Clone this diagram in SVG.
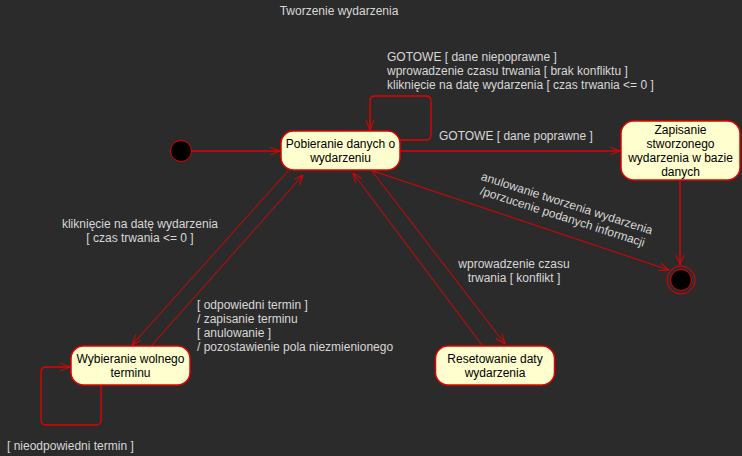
<svg xmlns="http://www.w3.org/2000/svg" width="742" height="456" viewBox="0 0 742 456">
<defs>
<marker id="arr" viewBox="0 0 10 8" markerWidth="10" markerHeight="8" refX="10" refY="4" orient="auto" markerUnits="userSpaceOnUse">
<path d="M0,0 L10,4 L0,8" fill="none" stroke="#e60000" stroke-width="1"/>
</marker>
</defs>
<style>
.node rect{fill:#fefece;stroke:#e60000;stroke-width:1.5}
.ntxt{font-family:"Liberation Sans",Arial,sans-serif;font-size:12px;fill:#000;text-anchor:middle}
.lbl{font-family:"Liberation Sans",Arial,sans-serif;font-size:12px;fill:#d8d8d8}
.edge{fill:none;stroke:#e60000;stroke-width:1;marker-end:url(#arr)}
.thick{stroke-width:1.3}
.mid{text-anchor:middle}
</style>
<rect x="0" y="0" width="742" height="456" fill="#2b2b2b"/>
<text class="lbl mid" x="339" y="15">Tworzenie wydarzenia</text>

<g id="edges">
<path class="edge thick" d="M192,151 H280"/>
<path class="edge thick" d="M400,140 H426 Q431,140 431,135 V101 Q431,96 426,96 H375 Q370,96 370,101 V130"/>
<path class="edge thick" d="M400,151 H620"/>
<path class="edge thick" d="M680,180 V265"/>
<path class="edge" d="M373,171 L669,270"/>
<path class="edge" d="M288,171 L132,345"/>
<path class="edge" d="M152,345 L303,175"/>
<path class="edge thick" d="M101,385 V420 Q101,425 96,425 H46 Q41,425 41,420 V372 Q41,367 46,367 H70"/>
<path class="edge" d="M372,171 L505,344"/>
<path class="edge" d="M482,345 L353,173"/>

<text class="lbl" x="387" y="61">GOTOWE [ dane niepoprawne ]</text>
<text class="lbl" x="387" y="75">wprowadzenie czasu trwania [ brak konfliktu ]</text>
<text class="lbl" x="387" y="89">kliknięcie na datę wydarzenia [ czas trwania &lt;= 0 ]</text>
<text class="lbl" x="439" y="140">GOTOWE [ dane poprawne ]</text>
<g transform="translate(481,180) rotate(17.8)">
<text class="lbl mid" x="89" y="0">anulowanie tworzenia wydarzenia</text>
<text class="lbl mid" x="89" y="14">/porzucenie podanych informacji</text>
</g>
<text class="lbl mid" x="140" y="228">kliknięcie na datę wydarzenia</text>
<text class="lbl mid" x="140" y="242">[ czas trwania &lt;= 0 ]</text>
<text class="lbl" x="197" y="309">[ odpowiedni termin ]</text>
<text class="lbl" x="197" y="323">/ zapisanie terminu</text>
<text class="lbl" x="197" y="337">[ anulowanie ]</text>
<text class="lbl" x="197" y="351">/ pozostawienie pola niezmienionego</text>
<text class="lbl" x="7" y="450">[ nieodpowiedni termin ]</text>
<text class="lbl mid" x="514" y="268">wprowadzenie czasu</text>
<text class="lbl mid" x="514" y="282">trwania [ konflikt ]</text>
</g>

<g id="start">
<circle cx="181" cy="151" r="10.5" fill="#000" stroke="#e60000" stroke-width="1"/>
</g>
<g id="pobieranie" class="node">
<rect x="281" y="131" width="119" height="39" rx="12.5"/>
<text class="ntxt" x="340.5" y="148">Pobieranie danych o</text>
<text class="ntxt" x="340.5" y="162">wydarzeniu</text>
</g>
<g id="zapisanie" class="node">
<rect x="621" y="121" width="119" height="59" rx="12.5"/>
<text class="ntxt" x="680.5" y="134">Zapisanie</text>
<text class="ntxt" x="680.5" y="148">stworzonego</text>
<text class="ntxt" x="680.5" y="162">wydarzenia w bazie</text>
<text class="ntxt" x="680.5" y="176">danych</text>
</g>
<g id="koniec">
<circle cx="681" cy="280" r="14" fill="none" stroke="#e60000" stroke-width="1"/>
<circle cx="681" cy="280" r="10.5" fill="#000" stroke="#e60000" stroke-width="1"/>
</g>
<g id="wybieranie" class="node">
<rect x="71" y="346" width="119" height="39" rx="12.5"/>
<text class="ntxt" x="130.5" y="363">Wybieranie wolnego</text>
<text class="ntxt" x="130.5" y="377">terminu</text>
</g>
<g id="resetowanie" class="node">
<rect x="435.5" y="346" width="119" height="39" rx="12.5"/>
<text class="ntxt" x="495" y="363">Resetowanie daty</text>
<text class="ntxt" x="495" y="377">wydarzenia</text>
</g>
</svg>
